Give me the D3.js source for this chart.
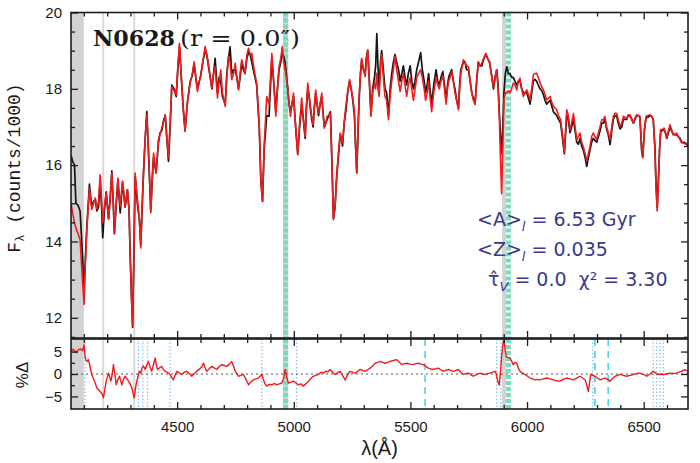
<!DOCTYPE html>
<html><head><meta charset="utf-8">
<script src="https://cdn.jsdelivr.net/npm/d3@7"></script>
<style>body{margin:0;background:#fff}svg{display:block}</style>
</head><body><svg id="c" width="700" height="463"></svg>
<script>
// ---- data ----
const wavelength = [
4045,4052,4060,4066,4075,4084,4092,4101,4107,4113,
4124,4134,4142,4149,4156,4163,4170,4176,4181,4188,
4196,4206,4213,4220,4226,4231,4239,4246,4256,4266,
4277,4287,4294,4298,4304,4309,4314,4320,4331,4338,
4344,4350,4356,4363,4370,4378,4387,4393,4399,4410,
4420,4427,4434,4441,4449,4456,4463,4470,4477,4487,
4496,4503,4510,4518,4526,4534,4545,4556,4565,4573,
4580,4587,4595,4601,4610,4620,4627,4634,4642,4649,
4656,4663,4673,4680,4687,4694,4706,4713,4720,4727,
4734,4742,4749,4756,4763,4770,4777,4784,4791,4799,
4806,4813,4820,4830,4841,4852,4859,4866,4873,4884,
4894,4906,4915,4923,4930,4937,4944,4951,4957,4963,
4968,4974,4980,4986,4992,4999,5008,5017,5025,5034,
5041,5049,5054,5060,5066,5071,5077,5083,5088,5094,
5100,5106,5113,5120,5125,5131,5137,5143,5150,5157,
5163,5170,5177,5184,5191,5199,5204,5209,5216,5223,
5231,5239,5246,5253,5260,5265,5270,5275,5280,5286,
5291,5299,5306,5312,5317,5324,5331,5338,5346,5351,
5356,5361,5366,5372,5377,5384,5391,5398,5406,5413,
5420,5427,5434,5441,5449,5456,5463,5470,5477,5484,
5491,5499,5506,5513,5520,5527,5535,5544,5551,5559,
5565,5572,5578,5584,5591,5600,5610,5617,5624,5631,
5639,5646,5653,5659,5664,5670,5677,5684,5691,5698,
5706,5711,5716,5727,5734,5741,5749,5756,5763,5770,
5777,5784,5791,5799,5806,5815,5823,5831,5839,5847,
5856,5863,5870,5876,5881,5886,5891,5896,5901,5907,
5913,5920,5927,5934,5941,5948,5956,5963,5970,5977,
5984,5992,5999,6006,6013,6020,6027,6034,6041,6048,
6056,6063,6070,6077,6084,6091,6099,6106,6113,6120,
6127,6135,6144,6152,6160,6165,6170,6177,6184,6191,
6199,6206,6213,6220,6227,6234,6241,6249,6256,6263,
6270,6277,6284,6291,6299,6306,6313,6320,6327,6334,
6341,6348,6356,6363,6370,6377,6384,6391,6399,6406,
6413,6420,6427,6434,6441,6449,6456,6463,6470,6477,
6484,6491,6496,6503,6510,6518,6527,6534,6541,6548,
6553,6558,6563,6568,6573,6580,6587,6593,6599,6606,
6613,6620,6627,6634,6641,6648,6656,6663,6670,6680,
6690];
const modelFlux = [
15.00,14.75,14.50,14.35,14.20,14.05,13.20,12.35,13.50,14.31,
15.40,14.84,15.00,15.14,14.85,15.05,15.75,15.10,14.49,14.90,
15.27,14.58,15.10,15.79,15.10,14.23,15.00,15.66,14.92,15.58,
14.92,15.36,14.80,13.79,12.60,11.79,13.40,15.79,15.01,14.60,
13.83,14.90,15.88,16.70,17.32,16.30,14.75,15.60,16.32,15.79,
16.67,16.80,16.97,17.10,17.32,16.70,16.19,17.10,18.06,17.95,
17.84,18.60,19.19,18.30,17.50,16.88,17.70,18.15,18.40,18.71,
18.30,17.93,18.20,18.32,18.70,19.11,18.90,18.67,18.30,18.02,
18.40,18.58,17.76,18.20,18.50,17.90,17.54,18.30,18.85,18.70,
18.24,18.40,18.67,18.30,17.97,18.40,18.76,18.60,18.41,18.90,
19.06,18.90,18.93,18.50,18.15,17.00,15.60,15.05,16.50,17.80,
17.60,18.93,18.10,17.28,18.00,18.58,18.80,19.11,18.70,18.50,
18.30,18.06,17.60,17.28,17.60,17.89,17.00,16.27,17.10,17.76,
17.20,16.75,17.50,18.15,17.80,17.54,17.30,17.06,17.50,17.97,
17.60,17.36,17.60,17.89,17.40,16.97,17.10,17.28,17.30,17.36,
16.20,14.57,14.90,15.71,16.30,16.84,16.70,16.58,17.10,17.54,
17.90,18.24,18.00,17.76,17.40,16.50,15.79,16.80,17.80,18.40,
18.80,18.50,18.32,18.80,19.02,18.20,17.28,17.90,18.15,18.00,
18.41,18.00,17.80,18.60,18.90,18.30,17.80,17.70,17.19,17.80,
18.20,18.50,18.85,18.50,18.20,17.93,18.20,18.40,18.10,17.80,
18.10,18.30,18.00,17.70,18.00,18.30,18.40,18.50,18.30,18.00,
17.70,17.90,18.20,17.80,17.40,17.90,18.30,18.10,18.00,18.20,
18.35,18.00,17.60,18.00,18.20,18.30,18.45,18.20,17.90,17.70,
17.45,18.00,18.40,18.76,18.71,18.60,18.58,18.20,17.89,17.70,
17.60,18.20,18.70,18.60,18.67,18.80,18.93,18.80,18.71,18.40,
18.06,18.30,18.50,18.00,17.28,16.20,15.25,16.40,17.71,17.90,
17.89,17.95,17.90,18.00,18.15,18.10,17.97,18.20,18.28,18.00,
17.80,17.90,17.97,17.85,17.71,18.00,18.37,18.40,18.41,18.30,
18.15,18.05,17.97,17.85,17.71,17.75,17.80,17.65,17.54,17.50,
17.45,17.30,17.19,16.80,16.34,16.90,17.45,17.30,16.93,17.10,
17.35,17.00,16.67,16.75,16.84,16.60,16.49,16.30,16.10,16.30,
16.49,16.75,16.84,16.75,16.67,16.85,17.01,17.19,17.19,17.28,
17.01,16.85,16.67,17.00,17.28,17.36,17.36,17.20,17.01,17.10,
17.28,17.25,17.23,17.32,17.32,17.20,17.10,17.23,17.32,17.30,
17.28,16.50,16.20,16.90,17.28,17.30,17.32,17.28,17.19,16.40,
15.40,14.80,15.50,16.40,16.93,16.93,16.97,16.85,16.71,16.90,
17.06,16.93,16.80,16.80,16.84,16.75,16.67,16.58,16.58,16.55,
16.58];
const observedFlux = [
16.25,16.10,16.00,15.00,14.95,14.80,13.90,12.80,13.60,14.40,
15.50,14.90,15.05,15.10,14.80,14.90,15.60,14.90,14.10,14.80,
15.30,14.60,15.15,15.85,15.00,14.20,15.00,15.60,14.75,15.55,
14.90,15.35,14.80,13.80,12.60,11.75,13.40,15.70,14.90,14.60,
13.90,14.90,15.80,16.70,17.40,16.20,14.80,15.60,16.20,15.80,
16.60,16.85,16.90,17.15,17.30,16.70,16.10,17.00,18.10,18.00,
17.80,18.50,19.10,18.30,17.50,16.90,17.70,18.20,18.35,18.65,
18.30,18.00,18.20,18.35,18.70,19.00,18.90,18.60,18.30,18.00,
18.40,18.80,17.90,18.30,18.20,17.80,17.60,18.40,18.80,19.10,
18.40,18.50,18.50,18.30,18.00,18.30,18.70,18.50,18.40,18.80,
18.95,18.90,18.70,18.40,18.10,17.00,15.60,15.05,16.40,17.30,
17.28,18.80,18.10,17.40,18.00,18.50,18.70,18.90,18.85,18.70,
18.40,18.00,17.60,17.40,17.60,17.80,17.00,16.30,17.00,17.60,
17.20,16.70,17.50,18.00,17.80,17.50,17.20,17.00,17.50,17.90,
17.60,17.30,17.60,17.80,17.40,17.00,17.10,17.20,17.30,17.40,
16.20,14.60,14.90,15.70,16.20,16.80,16.70,16.50,17.10,17.40,
17.90,18.20,18.00,17.70,17.30,16.50,15.80,16.80,17.70,18.40,
18.75,18.50,18.40,18.85,19.00,18.20,17.30,18.00,18.30,18.60,
19.45,18.60,18.00,18.70,19.00,18.50,18.00,17.90,17.30,18.00,
18.40,18.70,18.90,18.70,18.50,18.20,18.40,18.60,18.30,18.10,
18.40,18.60,18.20,18.00,18.20,18.50,18.70,18.95,18.50,18.20,
17.90,18.10,18.40,18.00,17.60,18.10,18.50,18.20,18.10,18.30,
18.45,18.10,17.70,18.10,18.30,18.40,18.50,18.20,18.00,17.70,
17.50,18.10,18.50,18.70,18.70,18.50,18.50,18.20,17.90,17.75,
17.60,18.20,18.70,18.60,18.60,18.80,18.90,18.80,18.70,18.40,
18.00,18.30,18.50,18.10,17.40,16.80,16.30,17.00,17.90,18.40,
18.58,18.40,18.40,18.30,18.30,18.20,18.10,18.20,18.20,18.00,
17.90,17.90,17.90,17.75,17.60,17.90,18.20,18.25,18.20,18.10,
18.00,17.95,17.85,17.70,17.60,17.65,17.70,17.55,17.40,17.35,
17.30,17.20,17.10,16.70,16.30,16.80,17.30,17.20,16.85,17.00,
17.20,16.90,16.60,16.55,16.70,16.50,16.40,16.20,15.97,16.20,
16.40,16.60,16.70,16.65,16.60,16.75,16.90,17.10,17.10,17.20,
16.95,16.80,16.54,16.90,17.20,17.30,17.30,17.10,16.95,17.00,
17.20,17.20,17.20,17.30,17.30,17.20,17.10,17.20,17.30,17.30,
17.25,16.40,16.20,16.90,17.25,17.25,17.30,17.28,17.20,16.50,
15.50,14.90,15.60,16.40,16.90,16.90,16.95,16.85,16.70,16.85,
17.00,16.90,16.80,16.80,16.80,16.75,16.70,16.60,16.60,16.58,
16.50];
const residWavelength = [
4045,4055,4065,4075,4085,4095,4101,4106,4113,4120,
4127,4134,4145,4156,4163,4170,4177,4184,4190,4196,
4206,4216,4222,4227,4233,4239,4246,4253,4258,4263,
4270,4277,4284,4291,4298,4306,4312,4316,4322,4327,
4333,4339,4344,4349,4356,4363,4370,4377,4384,4391,
4398,4406,4411,4416,4425,4434,4441,4449,4460,4470,
4477,4484,4491,4499,4510,4520,4530,4541,4550,4563,
4573,4584,4598,4606,4613,4620,4627,4638,4649,4660,
4670,4680,4691,4702,4713,4724,4734,4742,4749,4756,
4763,4773,4784,4795,4806,4816,4827,4838,4849,4856,
4863,4870,4877,4884,4895,4906,4917,4927,4938,4949,
4956,4963,4970,4977,4988,4999,5009,5020,5030,5041,
5052,5063,5073,5084,5095,5106,5117,5127,5137,5147,
5156,5167,5177,5188,5199,5210,5220,5230,5241,5252,
5263,5274,5284,5295,5306,5316,5327,5338,5349,5360,
5370,5381,5391,5402,5413,5427,5441,5452,5463,5474,
5484,5499,5513,5523,5534,5545,5556,5566,5577,5588,
5599,5610,5620,5631,5641,5652,5663,5673,5684,5695,
5706,5716,5727,5738,5749,5760,5770,5785,5799,5810,
5820,5831,5841,5852,5863,5868,5873,5878,5881,5884,
5887,5892,5896,5901,5905,5910,5918,5927,5934,5941,
5948,5956,5963,5970,5980,5991,6002,6013,6023,6034,
6045,6056,6070,6084,6098,6113,6127,6141,6155,6170,
6184,6199,6213,6227,6238,6249,6256,6263,6268,6273,
6282,6291,6302,6313,6324,6334,6345,6356,6366,6377,
6388,6399,6413,6427,6441,6456,6470,6484,6499,6513,
6527,6541,6552,6563,6573,6584,6598,6613,6627,6641,
6652,6663,6677,6690];
const residPercent = [
5.0,5.5,4.8,5.3,5.6,5.2,6.5,3.5,2.8,3.2,
1.5,-0.15,-1.5,-3.1,-3.5,-3.9,-4.3,-5.3,-3.5,-1.6,
0.2,-1.6,0.0,2.1,0.0,-2.4,-1.2,-0.5,-1.5,-2.4,
-1.2,-0.5,-1.0,-1.6,-2.2,-3.1,-4.5,-5.3,-3.0,-1.6,
-0.4,0.6,0.2,1.3,1.8,1.0,2.0,2.8,1.5,0.6,
2.0,3.6,2.0,1.0,1.4,1.7,1.0,0.6,0.3,-0.1,
-0.8,-1.3,-0.3,0.6,0.2,-0.1,0.4,0.6,0.2,-0.5,
0.1,0.6,1.2,1.6,2.4,1.4,0.6,1.2,1.7,1.3,
1.0,1.6,2.1,1.9,1.7,2.2,2.8,1.7,0.6,0.1,
-0.5,-0.3,-0.1,-1.2,-2.4,-1.8,-1.3,-1.1,-0.9,-0.5,
-0.1,-1.3,-2.2,-2.7,-2.3,-2.4,-2.1,-2.4,-2.2,-2.0,
-1.0,1.0,-0.8,-2.0,-1.8,-1.6,-2.0,-2.4,-2.2,-2.7,
-2.2,-1.6,-1.0,-0.5,-0.3,-0.1,0.4,0.2,0.6,0.5,
1.0,0.4,-0.1,0.3,0.6,-0.4,-1.3,-0.3,0.6,0.4,
0.2,0.6,1.0,0.8,0.6,0.9,1.3,1.8,2.4,2.6,
2.8,2.6,2.4,2.6,2.8,3.0,3.2,2.6,2.1,2.3,
2.4,2.2,2.1,2.3,2.4,2.2,2.1,1.7,1.3,1.1,
1.0,1.2,1.3,0.9,0.6,0.8,1.0,0.8,0.6,0.8,
1.0,0.4,-0.1,0.1,0.2,-0.2,-0.5,-0.1,0.2,0.0,
-0.1,0.1,0.2,0.4,0.6,0.0,-1.3,-2.2,-2.4,-0.5,
1.0,4.5,6.5,7.6,6.0,3.9,3.7,3.6,2.8,2.1,
2.6,2.4,1.3,0.6,0.2,-0.1,-0.5,-0.9,-1.1,-1.3,
-1.2,-1.3,-1.1,-0.9,-1.1,-1.3,-1.5,-1.6,-1.2,-0.9,
-1.1,-1.3,-0.9,-0.5,-0.9,-1.3,-2.5,-3.9,-2.0,-0.1,
-0.3,-0.5,-0.9,-1.3,-1.1,-0.9,-1.2,-1.6,-1.0,-0.5,
-0.3,-0.1,-0.3,-0.5,-0.3,-0.1,0.1,0.2,-0.1,-0.5,
0.0,0.6,0.2,-0.1,0.0,-0.1,0.0,0.2,0.1,0.2,
0.4,0.6,1.0,0.6];
const xTickValues = [4500, 5000, 5500, 6000, 6500];
const fluxTickValues = [12, 14, 16, 18, 20];
const residTickValues = [-5, 0, 5];
const maskBands = [[4045, 4100], [4954, 4976], [5893, 5910]];
const greenBands = [[4954, 4976], [5910, 5931]];
const maskLines = [4183, 4316];
const dottedLines = [4105, 4334, 4353, 4373, 4470, 4863, 5012, 5870, 5887, 6282, 6541, 6556, 6570, 6584];
const dashedLines = [5563, 6291, 6348];

// ---- drawing ----
const svg = d3.select("#c");
const L = 71, R = 688, T1 = 12.5, B1 = 338, T2 = 339, B2 = 409;
const x = d3.scaleLinear([4045, 6690], [L, R]);
const yF = d3.scaleLinear([11.47, 20], [B1, T1]);
const yR = d3.scaleLinear([-7.8, 7.8], [B2, T2]);
const RED = "#ee1c1c", INK = "#1c1c1c", NAVY = "#3a3a88";

const defs = svg.append("defs");
defs.append("clipPath").attr("id", "cTop").append("rect").attr("x", L).attr("y", T1).attr("width", R - L).attr("height", B1 - T1);
defs.append("clipPath").attr("id", "cBot").append("rect").attr("x", L).attr("y", T2).attr("width", R - L).attr("height", B2 - T2);

function decor(g, y0, y1, bottom) {
  g.selectAll(".mb").data(maskBands).join("rect")
    .attr("x", d => x(d[0])).attr("width", d => x(d[1]) - x(d[0]))
    .attr("y", y0).attr("height", y1 - y0).attr("fill", "#d2d2d2");
  g.selectAll(".ml").data(maskLines).join("line")
    .attr("x1", d => x(d)).attr("x2", d => x(d)).attr("y1", y0).attr("y2", y1)
    .attr("stroke", "#dadada").attr("stroke-width", 2);
  if (bottom) {
    g.selectAll(".dl").data(dottedLines).join("line")
      .attr("x1", d => x(d)).attr("x2", d => x(d)).attr("y1", y0).attr("y2", y1)
      .attr("stroke", "#8cc4ee").attr("stroke-width", 1.3).attr("stroke-dasharray", "1.5,2");
    g.selectAll(".dd").data(dashedLines).join("line")
      .attr("x1", d => x(d)).attr("x2", d => x(d)).attr("y1", y0).attr("y2", y1)
      .attr("stroke", "#3fd6e6").attr("stroke-width", 1.6).attr("stroke-dasharray", "7,5");
  }
  g.selectAll(".gb").data(greenBands).join("line")
    .attr("x1", d => (x(d[0]) + x(d[1])) / 2).attr("x2", d => (x(d[0]) + x(d[1])) / 2)
    .attr("y1", y0).attr("y2", y1)
    .attr("stroke", "#78dcbc").attr("stroke-width", d => x(d[1]) - x(d[0]))
    .attr("stroke-dasharray", "4,2");
}

const gTop = svg.append("g").attr("clip-path", "url(#cTop)");
decor(gTop, T1, B1, false);
const gBot = svg.append("g").attr("clip-path", "url(#cBot)");
decor(gBot, T2, B2, true);

// title text (under the spectra)
svg.append("text").attr("x", 93).attr("y", 46)
  .attr("font-family", "DejaVu Serif").attr("font-weight", "bold").attr("font-size", 23)
  .attr("textLength", 82).attr("lengthAdjust", "spacingAndGlyphs")
  .attr("fill", "#1a1a1a").text("N0628");
svg.append("text").attr("x", 180).attr("y", 46)
  .attr("font-family", "DejaVu Serif").attr("font-size", 22)
  .attr("textLength", 120).attr("lengthAdjust", "spacingAndGlyphs")
  .attr("fill", "#1a1a1a").text("(r = 0.0\u2033)");

// spectra
const idx = d3.range(wavelength.length);
const lineObs = d3.line().x(i => x(wavelength[i])).y(i => yF(observedFlux[i]));
const lineMod = d3.line().x(i => x(wavelength[i])).y(i => yF(modelFlux[i]));
gTop.append("path").attr("d", lineObs(idx)).attr("fill", "none")
  .attr("stroke", "#151515").attr("stroke-width", 1.7).attr("stroke-linejoin", "round");
gTop.append("path").attr("d", lineMod(idx)).attr("fill", "none")
  .attr("stroke", RED).attr("stroke-width", 1.6).attr("stroke-linejoin", "round");

// residuals
gBot.append("line").attr("x1", L).attr("x2", R).attr("y1", yR(0)).attr("y2", yR(0))
  .attr("stroke", "#555").attr("stroke-width", 1).attr("stroke-dasharray", "2,3");
const ridx = d3.range(residWavelength.length);
const lineRes = d3.line().x(i => x(residWavelength[i])).y(i => yR(residPercent[i]));
gBot.append("path").attr("d", lineRes(ridx)).attr("fill", "none")
  .attr("stroke", RED).attr("stroke-width", 1.4).attr("stroke-linejoin", "round");

// axes
const minorX = d3.range(4100, 6700, 100).filter(v => v % 500 !== 0);
const minorF = d3.range(11.5, 20.01, 0.5).filter(v => !fluxTickValues.includes(v));
const minorR = [-2.5, 2.5];
function styleAxis(g) {
  g.select(".domain").remove();
  g.selectAll("line").attr("stroke", INK).attr("stroke-width", 1.3);
  g.selectAll("text").attr("font-family", "Liberation Sans, Arial, sans-serif")
    .attr("font-size", 15).attr("fill", "#1a1a1a");
}
function xAxes(yPos, dir, labels) {
  const mk = dir === "bottom" ? d3.axisBottom : d3.axisTop;
  const a = mk(x).tickValues(xTickValues).tickSize(-7).tickPadding(12)
    .tickFormat(labels ? d3.format("d") : "");
  svg.append("g").attr("transform", `translate(0,${yPos})`).call(a).call(styleAxis);
  svg.append("g").attr("transform", `translate(0,${yPos})`)
    .call(mk(x).tickValues(minorX).tickSize(-4).tickFormat("")).call(styleAxis);
}
xAxes(T1, "top", false);
xAxes(B1, "bottom", false);
xAxes(T2, "top", false);
xAxes(B2, "bottom", true);

function yAxes(scale, majors, minors, fmt) {
  svg.append("g").attr("transform", `translate(${L},0)`)
    .call(d3.axisLeft(scale).tickValues(majors).tickSize(-7).tickPadding(9).tickFormat(fmt)).call(styleAxis);
  svg.append("g").attr("transform", `translate(${L},0)`)
    .call(d3.axisLeft(scale).tickValues(minors).tickSize(-4).tickFormat("")).call(styleAxis);
  svg.append("g").attr("transform", `translate(${R},0)`)
    .call(d3.axisRight(scale).tickValues(majors).tickSize(-7).tickFormat("")).call(styleAxis);
  svg.append("g").attr("transform", `translate(${R},0)`)
    .call(d3.axisRight(scale).tickValues(minors).tickSize(-4).tickFormat("")).call(styleAxis);
}
yAxes(yF, fluxTickValues, minorF, d3.format("d"));
yAxes(yR, residTickValues, minorR, d3.format("d"));

// frames
svg.append("rect").attr("x", L).attr("y", T1).attr("width", R - L).attr("height", B1 - T1)
  .attr("fill", "none").attr("stroke", INK).attr("stroke-width", 1.6);
svg.append("rect").attr("x", L).attr("y", T2).attr("width", R - L).attr("height", B2 - T2)
  .attr("fill", "none").attr("stroke", INK).attr("stroke-width", 1.6);

// axis titles
const yl = svg.append("text").attr("transform", "translate(20,168) rotate(-90)")
  .attr("text-anchor", "middle").attr("font-family", "Liberation Mono, monospace")
  .attr("font-size", 18).attr("fill", "#1a1a1a");
yl.append("tspan").text("F");
yl.append("tspan").attr("font-size", 12).attr("dy", 4).text("\u03bb");
yl.append("tspan").attr("dy", -4).text(" (counts/1000)");
svg.append("text").attr("transform", "translate(28,375) rotate(-90)")
  .attr("text-anchor", "middle").attr("font-family", "Liberation Sans, Arial, sans-serif")
  .attr("font-size", 17).attr("fill", "#1a1a1a").text("%\u0394");
svg.append("text").attr("x", (L + R) / 2).attr("y", 455).attr("text-anchor", "middle")
  .attr("font-family", "Liberation Sans, Arial, sans-serif").attr("font-size", 20)
  .attr("fill", "#1a1a1a").text("\u03bb(\u00c5)");

// fit annotations
const af = "DejaVu Sans, sans-serif";
function ann(xp, yp, head, sub, rest) {
  const t = svg.append("text").attr("x", xp).attr("y", yp)
    .attr("font-family", af).attr("font-size", 19).attr("fill", NAVY);
  t.append("tspan").text(head);
  t.append("tspan").attr("font-size", 13).attr("font-style", "italic").attr("dy", 5).text(sub);
  t.append("tspan").attr("dy", -5).text(rest);
  return t;
}
ann(477, 226, "<A>", "l", " = 6.53 Gyr");
ann(477, 256, "<Z>", "l", " = 0.035");
ann(488, 286, "\u03c4\u0302", "V", " = 0.0\u00a0\u00a0\u03c7\u00b2 = 3.30");
</script></body></html>
